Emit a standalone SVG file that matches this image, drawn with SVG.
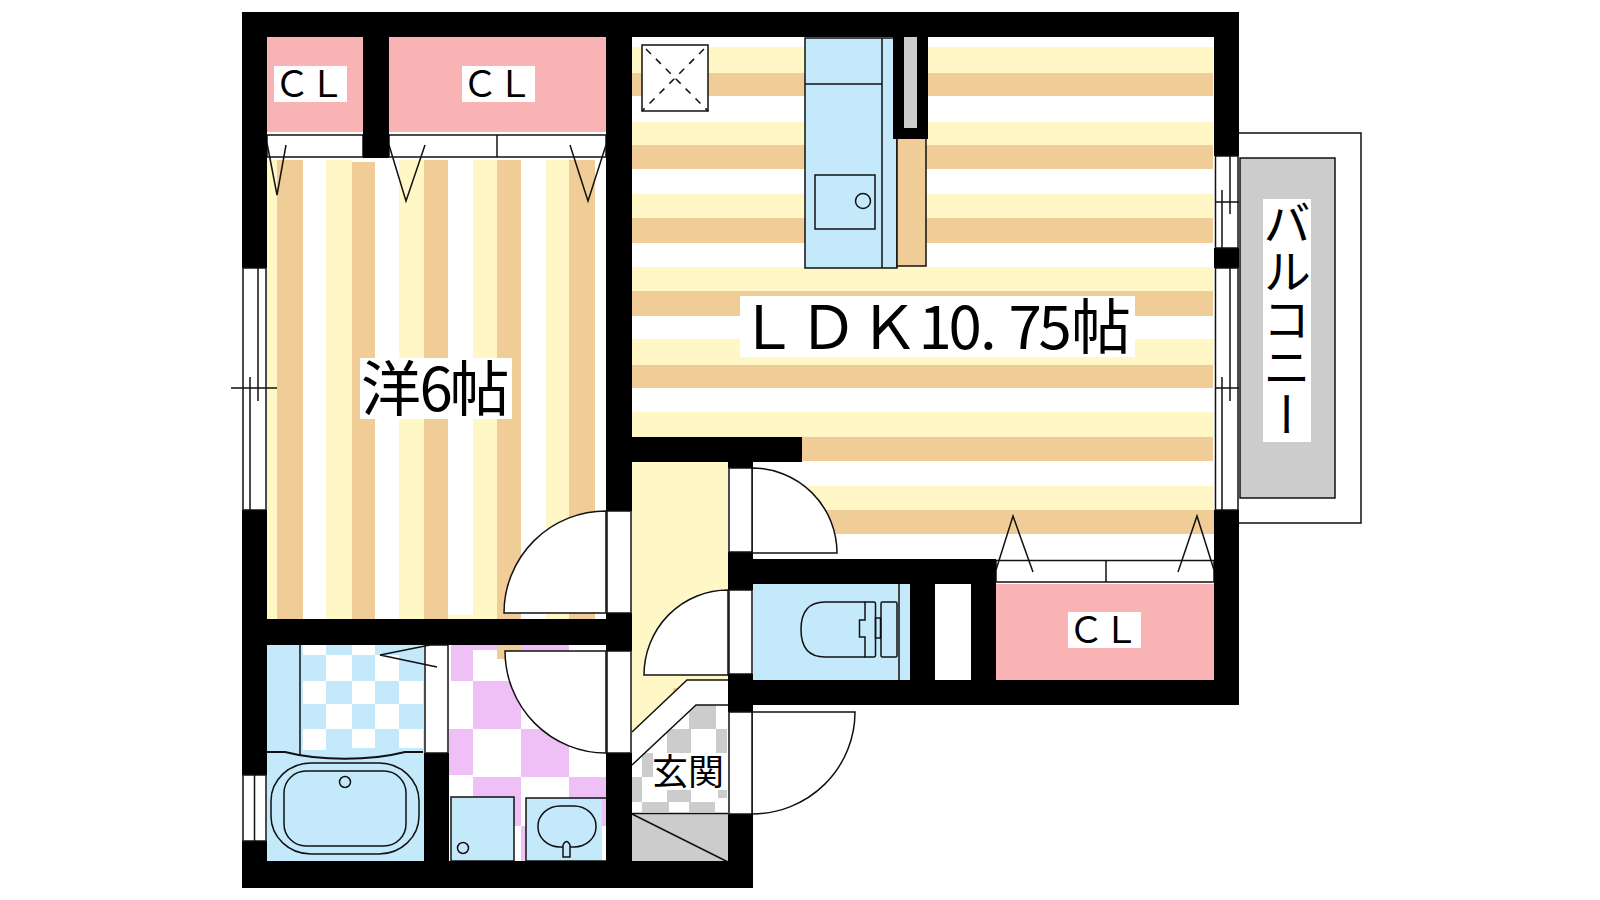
<svg xmlns="http://www.w3.org/2000/svg" width="1600" height="900" viewBox="0 0 1600 900">
<style>
.y{fill:#fff8c6}.o{fill:#f0cc96}.b{fill:#c4e9fb}.p{fill:#efc0f6}.g{fill:#ccc}.w{fill:#fff}.k{fill:#000}.cl{fill:#fab3b5}
.ln{fill:none;stroke:#111;stroke-width:1.5}
.fw{fill:#fff;stroke:#111;stroke-width:1.5}
.fb{fill:#c4e9fb;stroke:#111;stroke-width:1.5}
.fthick{fill:none;stroke:#111;stroke-width:2}
text{font-family:"Noto Sans CJK JP","Noto Sans",sans-serif;fill:#000}
.t36{font-size:36px}.t60{font-size:60px}.t48{font-size:48px}
</style>
<defs>
<clipPath id="entryClip"><polygon points="696,705 728,705 728,814 632,814 632,765"/></clipPath>
</defs>
<rect width="1600" height="900" fill="#fff"/>

<g id="room-western">
<rect x="267" y="158" width="339" height="461" class="w"/>
<g class="y"><rect x="267" y="160" width="10" height="459"/><rect x="326" y="160" width="26" height="459"/><rect x="399" y="160" width="25" height="459"/><rect x="473" y="160" width="24" height="459"/><rect x="546" y="160" width="23" height="459"/><rect x="448" y="615" width="25" height="4"/></g>
<g class="o"><rect x="277" y="160" width="26" height="459"/><rect x="352" y="162" width="23" height="457"/><rect x="424" y="160" width="24" height="459"/><rect x="497" y="160" width="24" height="459"/><rect x="569" y="160" width="26" height="459"/></g>
</g>

<g id="room-ldk">
<g class="y"><rect x="632" y="47" width="582" height="26"/><rect x="632" y="122" width="582" height="23"/><rect x="632" y="194" width="582" height="24"/><rect x="632" y="267" width="582" height="24"/><rect x="632" y="339" width="582" height="26"/><rect x="632" y="412" width="582" height="25"/><rect x="753" y="486" width="461" height="24"/></g>
<g class="o"><rect x="632" y="73" width="581" height="23"/><rect x="632" y="145" width="581" height="24"/><rect x="632" y="218" width="581" height="25"/><rect x="632" y="291" width="581" height="25"/><rect x="632" y="365" width="581" height="23"/><rect x="802" y="437" width="411" height="24"/><rect x="753" y="510" width="461" height="24"/></g>
</g>

<g id="hall">
<polygon class="y" points="632,462 728,462 728,680 687,680 632,732"/>
<polygon class="o" points="673,688 680,688 680,686.500 673,693"/>
<polyline class="ln" points="728,680 687,680 632,732"/>
</g>

<g id="entrance">
<g class="g" clip-path="url(#entryClip)">
<rect x="689" y="705" width="27" height="24"/><rect x="716" y="729" width="11" height="24"/><rect x="667" y="729" width="24" height="24"/><rect x="642" y="753" width="12" height="24"/><rect x="632" y="777" width="10" height="25"/><rect x="667" y="790" width="24" height="12"/><rect x="718" y="790" width="9" height="8"/><rect x="642" y="802" width="27" height="10"/><rect x="689" y="802" width="26" height="10"/>
</g>
<polyline class="ln" points="728,705 696,705 632,765"/>
<rect x="632" y="814" width="96" height="48" class="g"/>
<path class="ln" d="M632,813.500H728M632,814L728,862"/>
<rect x="653" y="753" width="70" height="37" class="w"/>
<text class="t36" x="652" y="785">玄関</text>
</g>

<g id="closet-1">
<rect x="267" y="37" width="96" height="95" class="cl"/>
<rect x="274" y="66" width="73" height="36" class="w"/>
<text class="t36" x="274 309" y="97">ＣＬ</text>
<path class="fw" d="M267,135H363V157H267Z"/>
<polyline class="ln" points="267,143 277,195 286,145"/>
</g>
<g id="closet-2">
<rect x="389" y="37" width="217" height="95" class="cl"/>
<rect x="462" y="66" width="73" height="36" class="w"/>
<text class="t36" x="462 497" y="97">ＣＬ</text>
<path class="fw" d="M389,135H606V157H389Z"/>
<path class="ln" d="M497,135V157"/>
<polyline class="ln" points="389,145 406,201 425,145"/>
<polyline class="ln" points="570,145 588,201 606,145"/>
</g>
<g id="closet-3">
<rect x="996" y="584" width="218" height="96" class="cl"/>
<rect x="1068" y="612" width="73" height="36" class="w"/>
<text class="t36" x="1068 1103" y="643">ＣＬ</text>
<path class="fw" d="M996,560.500H1214V582H996Z"/>
<path class="ln" d="M1106,560V582"/>
<polyline class="ln" points="996,570 1013,516 1033,572"/>
<polyline class="ln" points="1178,572 1197,516 1214,570"/>
</g>

<g id="bathroom">
<rect x="267" y="645" width="157" height="216" class="b"/>
<g class="w">
<rect x="303" y="645" width="23" height="10"/><rect x="352" y="645" width="23" height="10"/>
<rect x="326" y="655" width="26" height="26"/><rect x="375" y="655" width="24" height="26"/>
<rect x="303" y="681" width="23" height="23"/><rect x="352" y="681" width="23" height="23"/><rect x="399" y="681" width="24" height="23"/>
<rect x="326" y="704" width="26" height="25"/><rect x="375" y="704" width="24" height="25"/>
<rect x="303" y="729" width="23" height="21"/><rect x="352" y="729" width="23" height="19"/><rect x="399" y="729" width="24" height="19"/>
</g>
<path class="ln" d="M300,645V755"/>
<path class="fthick" d="M267,752H285C320,761 370,761 405,752H423"/>
<rect x="271" y="763" width="148" height="91" rx="40" ry="38" class="ln"/>
<rect x="284" y="771" width="122" height="75" rx="22" ry="22" class="ln"/>
<circle cx="345" cy="782" r="5.500" class="ln"/>
</g>

<g id="washroom">
<rect x="449" y="645" width="157" height="216" class="w"/>
<g class="p">
<rect x="451" y="645" width="46" height="5"/><rect x="521" y="645" width="48" height="36"/>
<rect x="451" y="650" width="22" height="31"/>
<rect x="473" y="681" width="48" height="48"/>
<rect x="449" y="729" width="24" height="46"/><rect x="521" y="729" width="48" height="48"/>
<rect x="473" y="777" width="48" height="49"/><rect x="569" y="777" width="37" height="49"/>
<rect x="521" y="826" width="48" height="36"/>
</g>
<rect x="497" y="645" width="24" height="14" class="o"/>
<rect x="451" y="797" width="63" height="64" class="fb"/>
<circle cx="463" cy="848" r="5.500" class="ln"/>
<rect x="526" y="798" width="76" height="63" class="b"/>
<path class="ln" d="M606,798H526V861H606"/>
<rect x="538" y="806" width="58" height="41" rx="22" ry="20" class="ln"/>
<path class="fb" d="M563,857V845Q566.500,838 570,845V857Z"/>
</g>

<g id="toilet">
<rect x="753" y="584" width="157" height="96" class="b"/>
<path class="ln" d="M899,584V680"/>
<path class="ln" d="M865,602H825C808,602 801,613 801,629.500C801,646 808,657 825,657H865"/>
<path class="ln" d="M865,602H874Q875.500,602 875.500,604V655Q875.500,657 874,657H865V637H859.500V620H865Z"/>
<rect x="875.500" y="618" width="5" height="20" class="ln"/>
<rect x="881" y="602" width="16" height="55" rx="1.500" class="ln"/>
<rect x="935" y="584" width="36" height="96" class="w"/>
</g>

<g id="kitchen">
<rect x="805" y="38" width="92" height="230" class="fb"/>
<path class="ln" d="M882,38V268M805,84H882"/>
<rect x="815" y="175" width="60" height="54" class="ln"/>
<circle cx="863" cy="201" r="7.500" class="ln"/>
<rect x="897" y="138" width="29" height="128" class="o" stroke="#111" stroke-width="1.500"/>
</g>

<g id="vent">
<rect x="642" y="45" width="66" height="66" class="fw"/>
<path fill="none" stroke="#111" stroke-width="1.500" stroke-dasharray="7 7" d="M646,49L708,111M704,49L642,111"/>
</g>

<g id="balcony">
<polyline class="ln" points="1239,133 1361,133 1361,523 1239,523"/>
<rect x="1240" y="158" width="95" height="340" class="g" stroke="#111" stroke-width="1.500"/>
<rect x="1263" y="199" width="48" height="243" class="w"/>
<text class="t48" x="1287" y="199" style="writing-mode:vertical-rl">バルコニー</text>
</g>

<g id="walls" class="k">
<rect x="242" y="12" width="997" height="25"/>
<rect x="242" y="12" width="25" height="256"/><rect x="242" y="510" width="25" height="265"/><rect x="242" y="841" width="25" height="47"/>
<rect x="242" y="861" width="511" height="27"/>
<rect x="363" y="37" width="26" height="121"/>
<rect x="267" y="619" width="339" height="26"/>
<rect x="606" y="12" width="26" height="499"/><rect x="606" y="613" width="26" height="38"/><rect x="606" y="753" width="26" height="135"/>
<rect x="424" y="753" width="25" height="108"/>
<rect x="632" y="437" width="170" height="25"/><rect x="728" y="462" width="25" height="6"/>
<rect x="728" y="552" width="25" height="38"/><rect x="753" y="559" width="243" height="25"/>
<rect x="728" y="674" width="25" height="38"/><rect x="753" y="680" width="486" height="25"/>
<rect x="728" y="814" width="25" height="74"/>
<rect x="910" y="584" width="25" height="96"/><rect x="971" y="584" width="25" height="96"/>
<rect x="1214" y="12" width="25" height="144"/><rect x="1214" y="248" width="25" height="20"/><rect x="1214" y="510" width="25" height="195"/>
<rect x="893" y="37" width="35" height="102"/>
<rect x="904" y="37" width="13" height="91" class="g"/>
</g>

<g id="window-west">
<rect x="243" y="268" width="23" height="242" class="fw"/>
<path class="ln" d="M258,268V401M250,377V510M231,388H277"/>
</g>
<g id="window-bath">
<rect x="243" y="775" width="23" height="66" class="fw"/>
<path class="ln" d="M254.500,775V841"/>
</g>
<g id="window-east">
<rect x="1215.500" y="156" width="22.500" height="92" class="fw"/>
<path class="ln" d="M1230,156V214M1222,190V248M1215,202H1239"/>
<rect x="1215.500" y="268" width="22.500" height="242" class="fw"/>
<path class="ln" d="M1230,268V401M1222,377V510M1215,388H1239"/>
</g>

<g id="door-western">
<path class="fw" d="M606,613H504A102,102 0 0 1 606,511Z"/>
<rect x="607" y="511" width="24" height="102" class="fw"/>
</g>
<g id="door-wash">
<path class="fw" d="M606,651H505A101,102 0 0 0 606,753Z"/>
<rect x="607" y="651" width="24" height="102" class="fw"/>
</g>
<g id="door-bath">
<rect x="425" y="645" width="23" height="108" class="fw"/>
<polyline class="ln" points="430,645 380,655 437,667"/>
</g>
<g id="door-ldk">
<path class="fw" d="M752,553H837A85,85 0 0 0 752,468Z"/>
<rect x="729" y="468" width="23" height="84" class="fw"/>
</g>
<g id="door-toilet">
<path class="fw" d="M728,675H644A84,85 0 0 1 728,590Z"/>
<rect x="729" y="590" width="23" height="84" class="fw"/>
</g>
<g id="door-entry">
<path class="fw" d="M752,712H855A103,102 0 0 1 752,814Z"/>
<rect x="729" y="712" width="23" height="102" class="fw"/>
</g>

<g id="label-western">
<rect x="360" y="358" width="152" height="61" class="w"/>
<text class="t60" x="361 419.500 449.500" y="411">洋6帖</text>
</g>
<g id="label-ldk">
<rect x="740" y="296" width="395" height="61" class="w"/>
<text class="t60" x="738 798 859 918.500 948.500 980 1008.500 1038.500 1071" y="349">ＬＤＫ10.75帖</text>
</g>
</svg>
